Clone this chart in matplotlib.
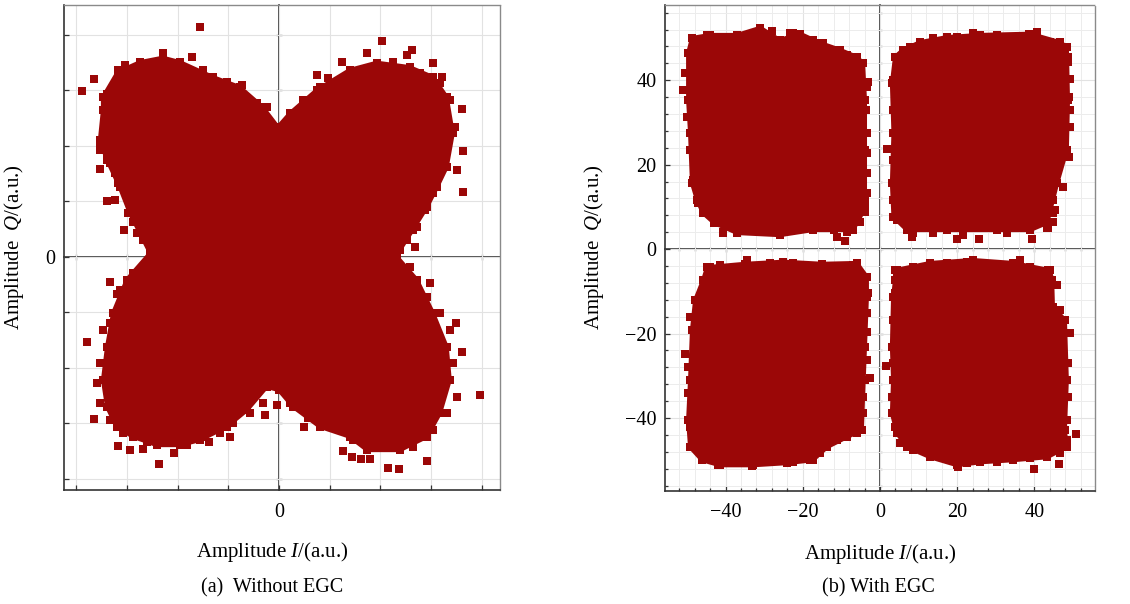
import matplotlib.pyplot as plt
from matplotlib.ticker import MultipleLocator, FuncFormatter

plt.rcParams['font.family'] = ['Liberation Serif', 'DejaVu Serif']
plt.rcParams['mathtext.fontset'] = 'custom'
plt.rcParams['mathtext.rm'] = 'Liberation Serif'
plt.rcParams['mathtext.it'] = 'Liberation Serif:italic'
plt.rcParams['axes.unicode_minus'] = True

RED = '#9b0707'
AXC = '#333333'

# (a) without EGC -- outline of the dense cloud (I, Q in tick units), clockwise from top notch
a_cloud_i = [-0.02, 0.22, 0.75, 1.40, 1.93, 2.58, 3.04, 3.31, 3.43, 3.31, 3.12, 2.92, 2.64, 2.39,
             2.33, 2.72, 3.04, 3.31, 3.37, 3.18, 2.92, 2.39, 1.74, 1.40, 0.81, 0.28, 0.00, -0.24,
             -0.63, -1.03, -1.56, -1.95, -2.41, -2.88, -3.20, -3.39, -3.47, -3.39, -3.27, -3.00,
             -2.54, -2.74, -2.94, -3.14, -3.39, -3.53, -3.47, -3.47, -3.18, -2.74, -2.29, -1.95,
             -1.30, -0.77, -0.32]
a_cloud_q = [2.34, 2.59, 3.01, 3.37, 3.50, 3.42, 3.24, 2.88, 2.23, 1.62, 1.26, 0.90, 0.49, 0.13,
             0.00, -0.41, -1.01, -1.62, -2.22, -2.81, -3.24, -3.48, -3.48, -3.24, -3.06, -2.70,
             -2.40, -2.34, -2.76, -3.06, -3.30, -3.39, -3.39, -3.24, -3.06, -2.70, -2.22, -1.62,
             -1.01, -0.41, 0.07, 0.43, 0.79, 1.26, 1.75, 2.11, 2.65, 2.88, 3.33, 3.51, 3.59, 3.51,
             3.24, 3.06, 2.70]
# points sitting on the ragged rim of the cloud
a_edge_i = [-3.53, -3.39, -3.33, -3.23, -3.18, -3.23, -2.98, -2.88, -2.80, -2.68, -2.50, 3.23,
            3.18, 3.04, 2.88, 2.72, 2.52, 3.41, 3.37, 3.18, -2.09, -1.50, -1.03, -0.91, -0.32,
            0.28, 0.47, 0.81, 1.40, 2.25, 2.78, -3.47, -3.53, -3.59, -3.53, -3.33, -3.08, -2.60,
            -1.81, -1.50, -0.91, -0.57, -0.32, 0.22, 0.81, 1.46, 2.05, 2.64, 3.04, 3.31, 3.51,
            3.43, 3.37, 3.18, 2.92, 2.72, 2.58, -2.88, -2.94, -3.14, -3.33, -3.39]
a_edge_q = [1.98, 1.87, 1.69, 1.51, 1.33, 1.03, 0.79, 0.63, 0.43, 0.31, 0.16, 1.98, 1.51, 1.15,
            0.85, 0.54, 0.31, 2.34, 2.83, 3.14, 3.50, 3.37, 3.15, 3.01, 2.68, 2.56, 2.83, 3.06,
            3.33, 3.51, 3.32, -1.32, -1.91, -2.27, -2.63, -2.94, -3.17, -3.33, -3.39, -3.24,
            -2.99, -2.81, -2.63, -2.63, -3.06, -3.30, -3.42, -3.42, -3.12, -2.81, -2.52, -1.91,
            -1.32, -1.01, -0.72, -0.41, -0.18, -0.29, -0.47, -0.59, -1.19, -1.62]
# stray points outside the cloud
a_stray_i = [-1.56, -3.89, -3.65, 2.03, 2.62, 2.52, 3.61, 3.63, 3.63, 3.51, -3.53, -3.39, -3.06,
             2.68, 2.98, -3.33, -3.20, -3.79, -3.65, -3.18, -2.94, -2.68, -2.37, -2.07, 3.96,
             3.61, 3.49, 2.92, 2.15, 2.37, 1.79, 1.62, 1.26, 1.44, 0.49, 0.57, -0.04, -0.28,
             -0.97, -1.16, -1.38, -3.18, -3.04, -2.29, -1.72, 1.24, 1.74, 3.04, 3.21, 0.75, 0.97,
             -0.43, -0.24, -0.73, -3.39, -3.53, 3.47]
a_stray_q = [4.14, 2.99, 3.21, 3.89, 3.73, 3.64, 2.67, 1.91, 1.17, 1.57, 1.59, 1.01, 0.49, 0.18,
             -0.47, -0.45, -0.67, -1.53, -2.92, -3.41, -3.48, -3.46, -3.73, -3.53, -2.49, -1.71,
             -1.19, -3.68, -3.80, -3.82, -3.64, -3.64, -3.50, -3.60, -3.06, -2.90, -2.67, -2.85,
             -3.24, -3.17, -3.33, 3.37, 3.46, 3.68, 3.60, 3.51, 3.68, 3.50, 3.24, 3.28, 3.22,
             2.77, 2.70, 3.10, 2.94, 1.93, 2.34]

# (b) with EGC -- outlines of the four clusters
b_ul_i = [-48.7, -44.0, -37.0, -31.0, -26.0, -20.7, -15.5, -10.4, -6.0, -4.4, -3.9, -3.9, -3.9,
          -3.9, -7.0, -12.0, -17.4, -25.9, -37.0, -43.0, -45.8, -47.4, -48.7, -49.2, -49.7, -49.7]
b_ul_q = [50.0, 50.7, 50.7, 52.4, 49.5, 51.0, 48.8, 47.2, 45.5, 44.0, 35.3, 23.5, 11.6, 9.7, 4.5,
          4.5, 4.5, 3.3, 3.8, 6.2, 8.5, 11.6, 15.6, 27.5, 35.3, 46.4]
b_ur_i = [3.9, 3.1, 3.5, 3.1, 3.5, 7.0, 17.4, 30.3, 38.9, 43.3, 44.8, 45.9, 48.4, 48.7, 48.4,
          46.6, 38.9, 25.9, 17.4, 10.4, 6.0]
b_ur_q = [45.5, 39.3, 27.5, 15.6, 7.6, 4.5, 4.5, 4.5, 4.5, 6.2, 11.6, 15.6, 23.5, 35.3, 47.9,
          49.0, 51.0, 50.7, 50.2, 49.0, 47.2]
b_ll_i = [-44.8, -35.0, -25.0, -15.0, -6.0, -3.4, -3.4, -3.9, -4.4, -4.7, -8.5, -13.7, -17.4,
          -24.1, -32.9, -41.5, -46.1, -49.2, -49.7, -49.2, -48.7, -47.9, -45.8]
b_ll_q = [-4.3, -3.5, -3.0, -3.5, -3.3, -6.6, -11.4, -23.2, -35.0, -42.9, -44.5, -46.9, -50.0,
          -50.7, -51.2, -51.2, -50.0, -46.9, -40.5, -31.0, -19.2, -12.1, -7.3]
b_lr_i = [3.9, 13.0, 24.0, 34.5, 44.0, 44.6, 44.8, 47.9, 48.4, 47.9, 48.4, 43.3, 34.5, 25.9,
          20.0, 13.0, 7.0, 4.4, 3.1, 3.4, 3.1, 3.4, 3.9]
b_lr_q = [-5.0, -3.3, -2.6, -3.3, -5.0, -7.3, -13.7, -16.8, -31.0, -42.9, -46.9, -49.3, -50.0,
          -50.5, -51.2, -49.3, -46.9, -43.6, -38.9, -31.0, -23.2, -11.4, -7.3]
# points on the ragged rims of the four clusters
b_edge_i = [-47.4, -44.8, -42.2, -38.9, -32.9, -22.5, -17.4, -14.8, -12.2, -8.5, -7.0, -50.5,
            -50.0, -49.2, -48.4, -47.2, -44.8, -42.2, -40.7, -3.4, -3.6, -3.4, -3.4, -3.4, -3.9,
            -5.2, -8.5, 3.4, 3.9, 3.4, 3.4, 4.4, 8.5, 13.7, 21.5, 32.9, 43.3, 45.3, 47.4, 49.0,
            49.2, 49.2, 48.7, 44.0, 34.5, 30.3, 24.1, 19.9, 13.7, 7.8, -44.0, -41.5, -34.5,
            -28.5, -22.5, -17.4, -12.2, -7.0, -3.9, -3.1, -47.9, -49.2, -49.7, -49.7, -49.2,
            -48.7, -45.9, -42.0, -37.0, -29.3, -22.5, -18.1, -15.5, -11.1, -6.0, -4.4, -3.9,
            -3.4, -3.4, 4.4, 8.5, 17.4, 22.5, 30.3, 38.9, 43.5, 45.9, 46.6, 48.4, 48.7, 48.7,
            48.4, 48.4, 46.6, 38.9, 30.3, 22.5, 15.5, 8.5, 5.2, 3.9, 3.1, 3.4, 3.4, 3.9]
b_edge_q = [49.5, 50.7, 50.2, 50.2, 50.7, 51.2, 49.5, 48.8, 47.2, 46.0, 45.3, 41.7, 31.3, 23.5,
            16.4, 10.9, 8.5, 6.2, 4.0, 38.4, 32.9, 27.5, 18.0, 13.3, 8.8, 6.4, 4.0, 40.0, 32.2,
            21.1, 11.6, 6.9, 3.8, 3.8, 3.3, 3.8, 5.0, 9.2, 14.7, 21.8, 32.9, 40.3, 45.5, 49.0,
            50.2, 50.7, 51.2, 50.2, 50.0, 47.9, -4.3, -3.8, -2.6, -3.3, -3.3, -4.3, -4.3, -3.8,
            -6.6, -10.4, -12.1, -16.1, -28.0, -34.1, -42.2, -46.0, -49.5, -51.2, -50.5, -50.5,
            -50.5, -50.0, -48.3, -45.3, -43.6, -38.9, -31.0, -26.3, -15.2, -5.0, -4.3, -3.3,
            -3.1, -3.8, -4.3, -5.0, -8.5, -14.5, -19.9, -27.0, -35.0, -40.5, -45.3, -48.3,
            -49.5, -50.5, -50.7, -49.3, -47.6, -46.0, -42.2, -35.0, -27.0, -16.8, -10.4]
b_stray_i = [-51.0, -3.1, -28.0, -11.1, -9.1, 1.8, 8.3, 20.0, 25.6, 39.4, 40.7, 38.5, 49.2, 49.0,
             44.8, 44.8, 43.6, -3.4, -40.7, -50.5, -2.6, 1.6, 50.8, 46.4, 39.9, 20.2, -33.2,
             49.2, 45.9, -3.4, -23.3, 28.5, 4.7, 3.4, 48.7, -7.0, 36.3, -34.5]
b_stray_q = [37.7, 39.6, 51.7, 2.8, 1.9, 23.7, 2.8, 2.4, 2.4, 2.4, 51.4, 51.0, 28.9, 36.0, 8.5,
             6.5, 5.0, 22.7, 3.8, -24.9, -30.6, -27.7, -43.8, -51.0, -52.1, -51.7, -51.4, -19.9,
             -8.5, -19.7, 51.2, 50.2, 44.3, 32.9, 44.3, -3.8, -2.6, -2.6]


def style_axes(ax, xlim, ylim, major, minor, show_all):
    ax.set_xlim(*xlim)
    ax.set_ylim(*ylim)
    ax.set_axisbelow(True)
    for side in ('top', 'right'):
        ax.spines[side].set_color('#8a8a8a')
        ax.spines[side].set_linestyle((0, (1.5, 1)))
        ax.spines[side].set_linewidth(1.0)
    for side in ('left', 'bottom'):
        ax.spines[side].set_color(AXC)
        ax.spines[side].set_linewidth(1.2)
    ax.xaxis.set_major_locator(MultipleLocator(major))
    ax.yaxis.set_major_locator(MultipleLocator(major))
    if minor:
        ax.xaxis.set_minor_locator(MultipleLocator(minor))
        ax.yaxis.set_minor_locator(MultipleLocator(minor))
        ax.grid(True, which='minor', color='#ececec', lw=0.7)
    ax.grid(True, which='major', color='#e2e2e2', lw=0.8)
    if not show_all:
        fmt = FuncFormatter(lambda v, p: '0' if abs(v) < 1e-9 else '')
        ax.xaxis.set_major_formatter(fmt)
        ax.yaxis.set_major_formatter(fmt)
    ax.tick_params(which='both', direction='in', color=AXC, labelsize=14.5, width=0.9)
    ax.tick_params(which='major', length=3.5)
    ax.tick_params(which='minor', length=2)
    ax.tick_params(axis='x', pad=9)
    ax.tick_params(axis='y', pad=6)

    # zero lines with crossing ticks
    fy = (0 - ylim[0]) / (ylim[1] - ylim[0])
    fx = (0 - xlim[0]) / (xlim[1] - xlim[0])
    sx = ax.secondary_xaxis(fy)
    sy = ax.secondary_yaxis(fx)
    for sec, axis in ((sx, sx.xaxis), (sy, sy.yaxis)):
        axis.set_major_locator(MultipleLocator(major))
        if minor:
            axis.set_minor_locator(MultipleLocator(minor))
        sec.tick_params(which='both', direction='inout', color=AXC, width=0.9,
                        labelbottom=False, labeltop=False, labelleft=False, labelright=False)
        sec.tick_params(which='major', length=5)
        sec.tick_params(which='minor', length=3)
        for sp in sec.spines.values():
            sp.set_color(AXC)
            sp.set_linewidth(1.2)


def dots(ax, xs, ys):
    ax.scatter(xs, ys, marker='s', s=26, c=RED, lw=0, zorder=3)


fig = plt.figure(figsize=(11.3, 6.04), dpi=100)
ax1 = fig.add_axes([0.0566, 0.1887, 0.3858, 0.803])
ax2 = fig.add_axes([0.5885, 0.1871, 0.3805, 0.8046])

style_axes(ax1, (-4.24, 4.36), (-4.2, 4.54), 1, None, False)
style_axes(ax2, (-55.7, 55.7), (-57.3, 57.8), 20, 4, True)

ax1.fill(a_cloud_i, a_cloud_q, color=RED, lw=3, ec=RED, zorder=3)
dots(ax1, a_cloud_i, a_cloud_q)
dots(ax1, a_edge_i, a_edge_q)
dots(ax1, a_stray_i, a_stray_q)

for ci, cq in ((b_ul_i, b_ul_q), (b_ur_i, b_ur_q), (b_ll_i, b_ll_q), (b_lr_i, b_lr_q)):
    ax2.fill(ci, cq, color=RED, lw=3, ec=RED, zorder=3)
    dots(ax2, ci, cq)
dots(ax2, b_edge_i, b_edge_q)
dots(ax2, b_stray_i, b_stray_q)

for ax in (ax1, ax2):
    ax.set_xlabel(r'Amplitude $I$/(a.u.)', fontsize=15)
    ax.set_ylabel(r'Amplitude  $Q$/(a.u.)', fontsize=15)
ax1.xaxis.set_label_coords(0.478, -0.104)
ax2.xaxis.set_label_coords(0.5, -0.104)
ax1.yaxis.set_label_coords(-0.087, 0.50)
ax2.yaxis.set_label_coords(-0.137, 0.502)

fig.text(0.241, 0.027, '(a)  Without EGC', fontsize=14.5, ha='center', va='center')
fig.text(0.777, 0.027, '(b) With EGC', fontsize=14.5, ha='center', va='center')

fig.savefig('out.png', dpi=100)
